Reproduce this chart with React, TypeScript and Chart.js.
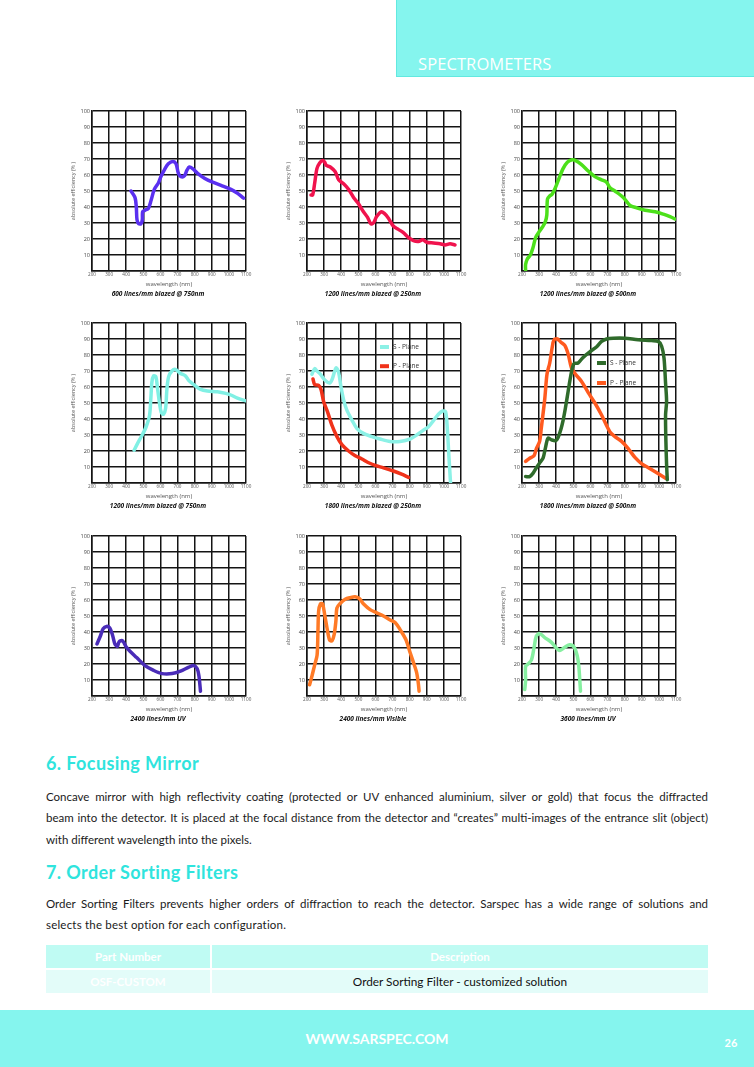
import React, { useEffect, useRef } from 'react';
import { Chart, registerables } from 'chart.js';

Chart.register(...registerables);

// ---- axis ticks ----
const xTickValues = [200, 300, 400, 500, 600, 700, 800, 900, 1000, 1100];
const yTickValues = [0, 10, 20, 30, 40, 50, 60, 70, 80, 90, 100];

// ---- 600 lines/mm blazed @ 750nm ----
const wl600b750 = [428, 451, 459, 463, 473, 486, 494, 496, 510, 529, 545, 564, 588, 603, 627, 646, 671, 691, 705, 720, 740, 755, 769, 788, 817, 857, 905, 954, 1012, 1051, 1086];
const eff600b750 = [50, 46, 40, 32, 29.5, 29.5, 32, 37, 38, 39, 44, 51, 55, 59, 64, 67, 68.5, 67, 61, 59, 59.5, 63, 65, 64, 61, 58, 55.5, 53.5, 51, 48.5, 45.5];

// ---- 1200 lines/mm blazed @ 250nm ----
const wl1200b250 = [223, 233, 245, 258, 274, 291, 303, 313, 336, 365, 385, 414, 443, 472, 501, 530, 554, 573, 588, 607, 633, 652, 676, 705, 734, 763, 792, 822, 851, 877, 900, 939, 978, 1007, 1036, 1065];
const eff1200b250 = [47.5, 47.5, 55, 64, 67.5, 69, 68, 66, 65, 62, 57, 54.5, 51, 46, 42, 37, 33.5, 29.5, 30, 34, 37, 36, 33, 28, 26, 24, 21, 19, 18.5, 19.5, 18, 17.5, 17, 16.3, 17, 16.3];

// ---- 1200 lines/mm blazed @ 500nm ----
const wl1200b500 = [221, 221, 231, 249, 264, 280, 303, 323, 337, 345, 349, 363, 376, 395, 415, 440, 465, 493, 514, 548, 587, 626, 665, 694, 714, 743, 792, 831, 870, 919, 978, 1026, 1065, 1095];
const eff1200b500 = [0.5, 4, 7.5, 10, 14.5, 21, 25, 28, 31, 35, 45, 47, 48, 52, 57.5, 64, 68, 69.5, 69, 66.5, 62.5, 59, 57, 55.5, 52, 50, 46, 41, 39.5, 38, 37, 35.5, 34, 32.5];

// ---- 1200 lines/mm blazed @ 750nm ----
const wl1200b750 = [446, 465, 491, 516, 536, 544, 550, 560, 573, 583, 595, 605, 618, 630, 638, 648, 667, 687, 717, 746, 766, 795, 835, 874, 933, 982, 1011, 1050, 1094];
const eff1200b750 = [20.5, 24.5, 29.5, 35, 42, 53, 63, 67, 66.5, 59, 49.5, 44, 43, 46.5, 59, 66.5, 70, 71, 68.5, 67, 64, 61.5, 58.5, 57.5, 57, 56, 55, 53, 51.5];

// ---- 1800 lines/mm blazed @ 250nm ----
const wl1800b250S = [229, 245, 258, 278, 307, 332, 346, 362, 371, 385, 398, 414, 433, 462, 492, 530, 579, 627, 686, 744, 803, 841, 880, 909, 939, 968, 993, 1010, 1020, 1030, 1039];
const eff1800b250S = [68, 71.5, 70, 68, 64, 62.5, 64.5, 70, 72, 69, 60.5, 52, 45.5, 39.5, 34, 31, 29, 27.5, 26, 26, 27.5, 30, 33, 35, 39, 43, 45, 44.5, 34, 15.5, 0];
const wl1800b250P = [235, 245, 268, 282, 297, 320, 346, 375, 404, 443, 482, 521, 554, 598, 647, 705, 753, 793];
const eff1800b250P = [65, 61.5, 61, 58.5, 51, 44.5, 36, 29, 24, 20, 17, 15, 13, 11, 9.5, 7.5, 5.5, 3.5];

// ---- 1800 lines/mm blazed @ 500nm ----
const wl1800b500S = [221, 245, 264, 284, 303, 323, 337, 352, 372, 397, 411, 427, 440, 454, 470, 485, 503, 528, 557, 596, 635, 665, 694, 733, 801, 879, 957, 996, 1016, 1030, 1039, 1045, 1039, 1041, 1045, 1049];
const eff1800b500S = [4, 4, 6, 9.5, 12.5, 15.5, 22, 28, 27, 26.5, 28.5, 33.5, 39, 47, 57.5, 67, 74.5, 75, 78.5, 82, 85, 88.5, 90, 90.5, 90.5, 89.5, 89, 88.5, 85.5, 78, 62.5, 51, 42.5, 26, 11.5, 2];
const wl1800b500P = [221, 245, 270, 284, 303, 313, 333, 346, 362, 376, 387, 407, 427, 450, 470, 489, 513, 548, 587, 626, 665, 714, 743, 782, 821, 860, 900, 939, 978, 1016, 1039];
const eff1800b500P = [13.5, 15.5, 17, 21.5, 26, 34.5, 52.5, 68, 75, 84.5, 89.5, 90, 88, 86, 80.5, 72, 68, 63.5, 56.5, 50, 42.5, 32, 29, 26, 21.5, 16, 12, 9.5, 7, 4.5, 3];

// ---- 2400 lines/mm UV ----
const wl2400UV = [229, 249, 265, 285, 304, 320, 334, 348, 359, 379, 398, 422, 461, 510, 560, 609, 668, 717, 766, 795, 815, 825, 834];
const eff2400UV = [32.5, 37.5, 42, 43.5, 42.5, 38, 32.5, 31, 34, 34.5, 31, 28, 24, 19, 16, 14, 14, 15.5, 18, 19, 17, 12.5, 3];

// ---- 2400 lines/mm Visible ----
const wl2400Vis = [215, 229, 245, 259, 264, 268, 278, 291, 303, 317, 332, 346, 359, 369, 375, 395, 423, 453, 481, 505, 531, 569, 608, 647, 686, 715, 744, 779, 803, 822, 841, 851, 855];
const eff2400Vis = [7, 12.5, 19.5, 25.5, 40.5, 53, 57.5, 57.5, 51, 42.5, 35, 34.5, 38.5, 47, 55, 58, 60.5, 61.5, 62, 61, 57.5, 54, 52, 50, 47.5, 46, 41.5, 35, 27, 21, 14.5, 7.5, 3];

// ---- 3600 lines/mm UV ----
const wl3600UV = [216, 221, 221, 235, 255, 270, 284, 303, 333, 372, 401, 421, 450, 479, 505, 523, 532, 538, 542];
const eff3600UV = [4, 9.5, 18.5, 20, 22.5, 30, 37.5, 39, 36.5, 33.5, 30, 28.5, 30.5, 32, 30.5, 25, 18.5, 9.5, 3];

const FONT = "'Open Sans', 'Noto Sans', 'DejaVu Sans', sans-serif";
const TEXT_FONT = "Lato, 'Open Sans', sans-serif";
const GRID = '#141414';
const CYAN = '#85F5EE';
const HEAD_CYAN = '#2FE4DD';

type Series = { label: string; wl: number[]; eff: number[]; color: string };
type LegendPos = { fx: number; fy: number; gap: number } | null;

const insideLegend = {
  id: 'insideLegend',
  afterDraw(chart: any, _args: any, opts: any) {
    if (!opts || !opts.show) return;
    const { ctx, chartArea } = chart;
    const w = chartArea.right - chartArea.left;
    const h = chartArea.bottom - chartArea.top;
    const x0 = chartArea.left + opts.fx * w;
    chart.data.datasets.forEach((ds: any, i: number) => {
      const y = chartArea.top + (opts.fy + i * opts.gap) * h;
      ctx.save();
      ctx.fillStyle = ds.borderColor;
      ctx.fillRect(x0, y - 2, 9, 4);
      ctx.fillStyle = '#333';
      ctx.font = `6.5px ${FONT}`;
      ctx.textBaseline = 'middle';
      ctx.textAlign = 'left';
      ctx.fillText(ds.label, x0 + 13, y);
      ctx.restore();
    });
  },
};

const PAD_L = 18;
const Y_W = 22;
const PLOT_W = 154;
const PAD_R = 8;
const PAD_T = 6;
const PLOT_H = 160;
const X_H = 17;
const CAP_H = 6.5 * 1.2 + 2;
const CANVAS_W = PAD_L + Y_W + PLOT_W + PAD_R;
const CANVAS_H = 197;

function EffChart({ left, top, caption, series, legend }: { left: number; top: number; caption: string; series: Series[]; legend: LegendPos }) {
  const ref = useRef<HTMLCanvasElement | null>(null);
  useEffect(() => {
    if (!ref.current) return;
    const padBottom = CANVAS_H - PAD_T - PLOT_H - X_H - CAP_H;
    const chart = new Chart(ref.current, {
      type: 'line',
      data: {
        datasets: series.map((s) => ({
          label: s.label,
          data: s.wl.map((x, i) => ({ x, y: s.eff[i] })),
          borderColor: s.color,
          backgroundColor: s.color,
          borderWidth: 3.5,
          pointRadius: 0,
          tension: 0.3,
          fill: false,
          borderCapStyle: 'round',
          borderJoinStyle: 'round',
        })),
      },
      options: {
        responsive: false,
        animation: false,
        devicePixelRatio: 1,
        layout: { padding: { left: PAD_L, top: PAD_T, right: PAD_R, bottom: padBottom } },
        plugins: {
          legend: { display: false },
          tooltip: { enabled: false },
          title: {
            display: true,
            position: 'bottom',
            text: caption,
            color: '#111',
            font: { family: FONT, size: 6.5, weight: 'bold', style: 'italic' },
            padding: { top: 2, bottom: 0 },
          },
          insideLegend: legend ? { show: true, ...legend } : { show: false },
        } as any,
        scales: {
          x: {
            type: 'linear',
            min: 200,
            max: 1100,
            afterBuildTicks: (s: any) => {
              s.ticks = xTickValues.map((v) => ({ value: v }));
            },
            ticks: {
              autoSkip: false,
              maxRotation: 0,
              padding: 1,
              color: '#555',
              font: { family: FONT, size: 4.6 },
              callback: (v: any) => String(v),
            },
            grid: { color: GRID, lineWidth: 1.5, drawTicks: false },
            border: { color: GRID, width: 1.5 },
            title: { display: true, text: 'wavelength (nm)', color: '#555', font: { family: FONT, size: 6 }, padding: 0 },
            afterFit: (s: any) => {
              s.height = X_H;
            },
          },
          y: {
            type: 'linear',
            min: 0,
            max: 100,
            afterBuildTicks: (s: any) => {
              s.ticks = yTickValues.map((v) => ({ value: v }));
            },
            ticks: {
              autoSkip: false,
              padding: 2,
              color: '#444',
              font: { family: FONT, size: 5.5 },
              callback: (v: any) => (v === 0 ? '' : String(v)),
            },
            grid: { color: GRID, lineWidth: 1.5, drawTicks: false },
            border: { color: GRID, width: 1.5 },
            title: { display: true, text: 'absolute efficiency (% )', color: '#555', font: { family: FONT, size: 5.5 }, padding: 0 },
            afterFit: (s: any) => {
              s.width = Y_W;
            },
          },
        },
      } as any,
      plugins: [insideLegend as any],
    });
    return () => chart.destroy();
  }, []);
  return (
    <canvas
      ref={ref}
      width={CANVAS_W}
      height={CANVAS_H}
      style={{ position: 'absolute', left: left - PAD_L - Y_W, top: top - PAD_T, width: CANVAS_W, height: CANVAS_H }}
    />
  );
}

const charts: { left: number; top: number; caption: string; series: Series[]; legend: LegendPos }[] = [
  { left: 91.5, top: 110.5, caption: '600 lines/mm blazed @ 750nm', series: [{ label: '600', wl: wl600b750, eff: eff600b750, color: '#5A30F0' }], legend: null },
  { left: 307, top: 110.5, caption: '1200 lines/mm blazed @ 250nm', series: [{ label: '1200/250', wl: wl1200b250, eff: eff1200b250, color: '#F0134D' }], legend: null },
  { left: 522, top: 110.5, caption: '1200 lines/mm blazed @ 500nm', series: [{ label: '1200/500', wl: wl1200b500, eff: eff1200b500, color: '#4CE01A' }], legend: null },
  { left: 92, top: 322.5, caption: '1200 lines/mm blazed @ 750nm', series: [{ label: '1200/750', wl: wl1200b750, eff: eff1200b750, color: '#80F0E4' }], legend: null },
  {
    left: 307, top: 322.5, caption: '1800 lines/mm blazed @ 250nm',
    series: [
      { label: 'S - Plane', wl: wl1800b250S, eff: eff1800b250S, color: '#8CF1E6' },
      { label: 'P - Plane', wl: wl1800b250P, eff: eff1800b250P, color: '#F0321A' },
    ],
    legend: { fx: 0.474, fy: 0.15, gap: 0.12 },
  },
  {
    left: 522, top: 322.5, caption: '1800 lines/mm blazed @ 500nm',
    series: [
      { label: 'S - Plane', wl: wl1800b500S, eff: eff1800b500S, color: '#2F6B2B' },
      { label: 'P - Plane', wl: wl1800b500P, eff: eff1800b500P, color: '#FF5A1F' },
    ],
    legend: { fx: 0.487, fy: 0.25, gap: 0.125 },
  },
  { left: 92, top: 535.5, caption: '2400 lines/mm UV', series: [{ label: '2400UV', wl: wl2400UV, eff: eff2400UV, color: '#4A2CB8' }], legend: null },
  { left: 307, top: 535.5, caption: '2400 lines/mm Visible', series: [{ label: '2400Vis', wl: wl2400Vis, eff: eff2400Vis, color: '#FF7A26' }], legend: null },
  { left: 522, top: 535.5, caption: '3600 lines/mm UV', series: [{ label: '3600UV', wl: wl3600UV, eff: eff3600UV, color: '#86EFA0' }], legend: null },
];

const para1 = [
  'Concave mirror with high reflectivity coating (protected or UV enhanced aluminium, silver or gold) that focus the diffracted',
  'beam into the detector. It is placed at the focal distance from the detector and \u201Ccreates\u201D multi-images of the entrance slit (object)',
  'with different wavelength into the pixels.',
];
const para2 = [
  'Order Sorting Filters prevents higher orders of diffraction to reach the detector. Sarspec has a wide range of solutions and',
  'selects the best option for each configuration.',
];

function TextLine({ text, y, justify, spacing }: { text: string; y: number; justify: boolean; spacing?: number }) {
  return (
    <div
      style={{
        position: 'absolute',
        left: 46,
        top: y - 8,
        width: 662,
        height: 16,
        lineHeight: '16px',
        fontSize: 11.5,
        fontFamily: TEXT_FONT,
        color: '#1a1a1a',
        whiteSpace: 'nowrap',
        textAlign: justify ? 'justify' : 'left',
        textAlignLast: justify ? 'justify' : 'left',
        letterSpacing: spacing ?? 0,
      } as any}
    >
      {text}
    </div>
  );
}

export default function App() {
  return (
    <div style={{ position: 'absolute', left: 0, top: 0, width: 754, height: 1067, background: '#fff', overflow: 'hidden' }}>
      {/* header */}
      <div style={{ position: 'absolute', left: 396, top: 0, width: 358, height: 77, background: CYAN, borderLeft: '1px solid #62E9E0', borderBottom: '1px solid #62E9E0', boxSizing: 'border-box' }} />
      <div style={{ position: 'absolute', left: 418, top: 54, height: 20, lineHeight: '20px', fontSize: 16.5, color: '#fff', fontFamily: FONT, letterSpacing: 0.1 }}>SPECTROMETERS</div>

      {charts.map((c, i) => (
        <EffChart key={i} left={c.left} top={c.top} caption={c.caption} series={c.series} legend={c.legend} />
      ))}

      {/* section 6 */}
      <div style={{ position: 'absolute', left: 46, top: 752, height: 22, lineHeight: '22px', fontSize: 18, fontWeight: 700, color: HEAD_CYAN, fontFamily: TEXT_FONT, letterSpacing: 0.4 }}>6. Focusing Mirror</div>
      <TextLine text={para1[0]} y={797} justify />
      <TextLine text={para1[1]} y={818} justify />
      <TextLine text={para1[2]} y={840} justify={false} />

      {/* section 7 */}
      <div style={{ position: 'absolute', left: 46, top: 861, height: 22, lineHeight: '22px', fontSize: 18, fontWeight: 700, color: HEAD_CYAN, fontFamily: TEXT_FONT, letterSpacing: 0.4 }}>7. Order Sorting Filters</div>
      <TextLine text={para2[0]} y={904} justify />
      <TextLine text={para2[1]} y={925} justify={false} spacing={0.2} />

      {/* table */}
      <div style={{ position: 'absolute', left: 46, top: 945, width: 164, height: 23, background: '#BFFBF3', color: '#fff', fontWeight: 700, fontSize: 11.5, fontFamily: TEXT_FONT, lineHeight: '23px', textAlign: 'center' }}>Part Number</div>
      <div style={{ position: 'absolute', left: 212, top: 945, width: 496, height: 23, background: '#BFFBF3', color: '#fff', fontWeight: 700, fontSize: 11.5, fontFamily: TEXT_FONT, lineHeight: '23px', textAlign: 'center' }}>Description</div>
      <div style={{ position: 'absolute', left: 46, top: 970, width: 164, height: 23, background: '#E3FCF9', color: '#fff', fontWeight: 700, fontSize: 11.5, fontFamily: TEXT_FONT, lineHeight: '23px', textAlign: 'center' }}>OSF-CUSTOM</div>
      <div style={{ position: 'absolute', left: 212, top: 970, width: 496, height: 23, background: '#E3FCF9', color: '#111', fontSize: 11.8, fontFamily: TEXT_FONT, lineHeight: '23px', textAlign: 'center' }}>Order Sorting Filter - customized solution</div>

      {/* footer */}
      <div style={{ position: 'absolute', left: 0, top: 1010, width: 754, height: 57, background: CYAN }} />
      <div style={{ position: 'absolute', left: 0, top: 1030, width: 754, height: 18, lineHeight: '18px', textAlign: 'center', fontSize: 14, fontWeight: 700, color: '#fff', fontFamily: TEXT_FONT }}>WWW.SARSPEC.COM</div>
      <div style={{ position: 'absolute', left: 718, top: 1034, width: 26, height: 18, lineHeight: '18px', textAlign: 'center', fontSize: 11, fontWeight: 700, color: '#fff', fontFamily: TEXT_FONT }}>26</div>
    </div>
  );
}
